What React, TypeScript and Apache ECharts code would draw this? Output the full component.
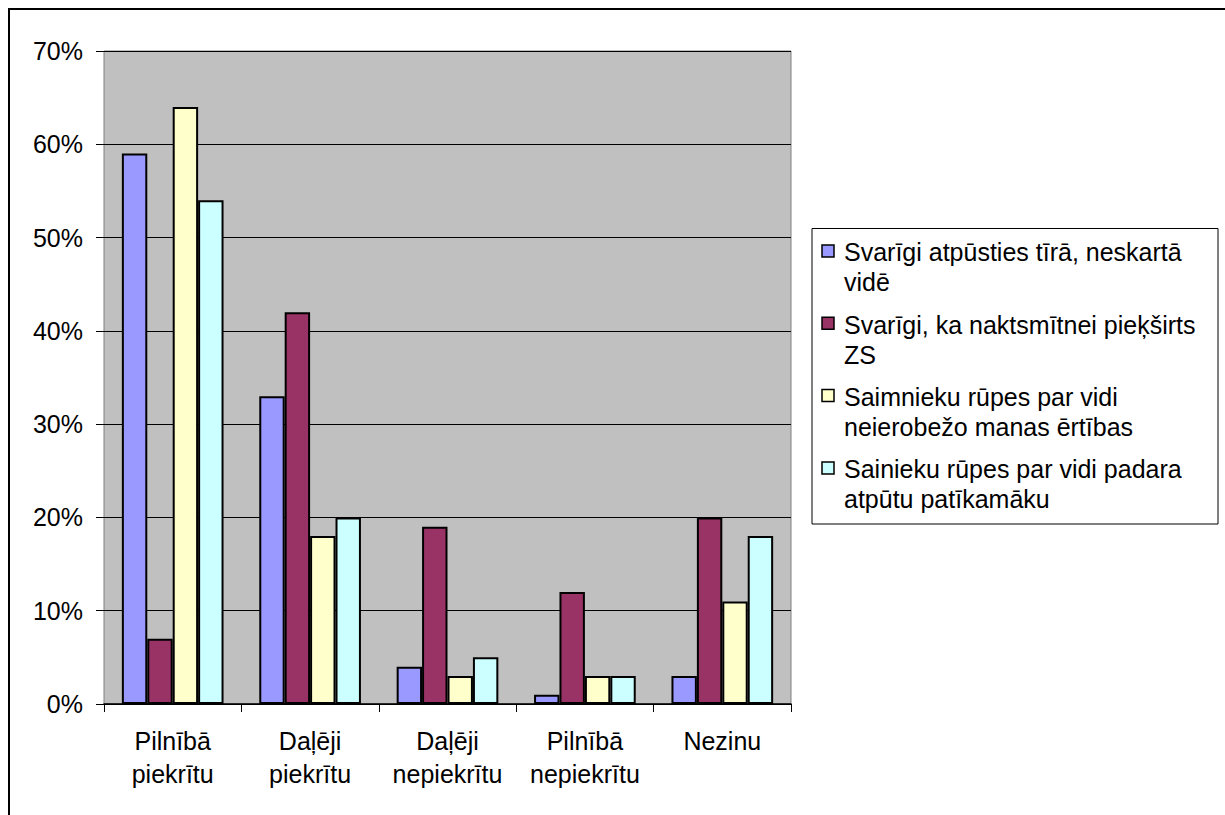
import React, { useEffect, useRef } from "react";
import * as echarts from "echarts";

const categories = [
  "Pilnībā\npiekrītu",
  "Daļēji\npiekrītu",
  "Daļēji\nnepiekrītu",
  "Pilnībā\nnepiekrītu",
  "Nezinu",
];

const seriesNames = [
  "Svarīgi atpūsties tīrā, neskartā\nvidē",
  "Svarīgi, ka naktsmītnei pieķširts\nZS",
  "Saimnieku rūpes par vidi\nneierobežo manas ērtības",
  "Sainieku rūpes par vidi padara\natpūtu patīkamāku",
];

const cleanEnv = [59, 33, 4, 1, 3];
const ecoLabel = [7, 42, 19, 12, 20];
const noComfortLoss = [64, 18, 3, 3, 11];
const morePleasant = [54, 20, 5, 3, 18];
const seriesValues = [cleanEnv, ecoLabel, noComfortLoss, morePleasant];

const yTicks = [0, 10, 20, 30, 40, 50, 60, 70];

const colors = ["#9999FF", "#993366", "#FFFFCC", "#CCFFFF"];
const FONT = '"Liberation Sans", Arial, sans-serif';

export default function App() {
  const ref = useRef<HTMLDivElement>(null);

  useEffect(() => {
    if (!ref.current) return;
    const chart = echarts.init(ref.current, undefined, { renderer: "svg" });

    const legendX = 812;
    const legendY = 228.5;
    const period = 72.3;
    const legendEls: any[] = [
      {
        type: "rect",
        shape: { x: legendX, y: legendY, width: 406, height: 295.5 },
        style: { fill: "#fff", stroke: "#000", lineWidth: 1 },
        z: 10,
      },
    ];
    seriesNames.forEach((name, i) => {
      legendEls.push({
        type: "rect",
        shape: { x: 822, y: 245 + period * i, width: 12, height: 12 },
        style: { fill: colors[i], stroke: "#000", lineWidth: 1.5 },
        z: 11,
      });
      legendEls.push({
        type: "text",
        x: 844,
        y: 237.4 + period * i,
        style: {
          text: name,
          font: `25px ${FONT}`,
          fill: "#000",
          lineHeight: 30,
          verticalAlign: "top",
          align: "left",
        },
        z: 11,
      });
    });

    const option: any = {
      animation: false,
      backgroundColor: "#fff",
      textStyle: { fontFamily: FONT },
      grid: {
        left: 104,
        top: 51,
        width: 687,
        height: 653,
        show: true,
        backgroundColor: "#C0C0C0",
        borderColor: "#808080",
        borderWidth: 1,
      },
      xAxis: {
        type: "category",
        data: categories,
        axisLine: { show: true, lineStyle: { color: "#000", width: 1.5 } },
        axisTick: { show: true, length: 8, lineStyle: { color: "#000", width: 1 } },
        axisLabel: {
          margin: 20,
          fontSize: 25,
          lineHeight: 33,
          color: "#000",
          fontFamily: FONT,
          interval: 0,
        },
        splitLine: { show: false },
      },
      yAxis: {
        type: "value",
        min: yTicks[0],
        max: yTicks[yTicks.length - 1],
        interval: 10,
        axisLine: { show: false },
        axisTick: { show: true, length: 8, lineStyle: { color: "#000", width: 1 } },
        axisLabel: {
          margin: 21,
          fontSize: 25,
          color: "#000",
          fontFamily: FONT,
          formatter: "{value}%",
        },
        splitLine: { show: true, lineStyle: { color: "#000", width: 1 } },
      },
      series: seriesNames.map((name, i) => ({
        name,
        type: "bar",
        data: seriesValues[i],
        barGap: "0%",
        barCategoryGap: "26%",
        itemStyle: { color: colors[i], borderColor: "#000", borderWidth: 2 },
      })),
      graphic: {
        elements: [
          {
            type: "line",
            shape: { x1: 9, y1: 9, x2: 9, y2: 815 },
            style: { stroke: "#000", lineWidth: 2 },
          },
          {
            type: "line",
            shape: { x1: 8, y1: 9, x2: 1225, y2: 9 },
            style: { stroke: "#000", lineWidth: 2 },
          },
          ...legendEls,
        ],
      },
    };

    chart.setOption(option);
    return () => chart.dispose();
  }, []);

  return (
    <div
      ref={ref}
      style={{ position: "absolute", left: 0, top: 0, width: 1225, height: 815 }}
    />
  );
}
